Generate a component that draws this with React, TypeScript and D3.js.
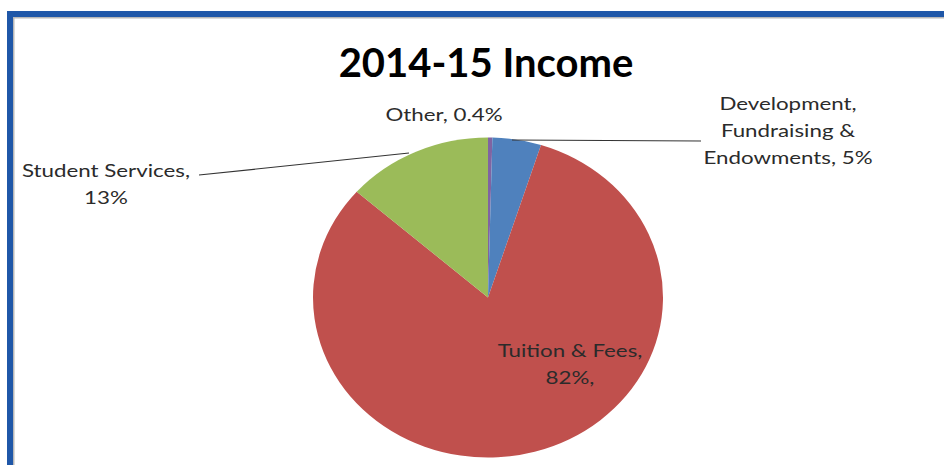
import React, { useEffect } from 'react';
import * as d3 from 'd3';

const categories = ['Other', 'Development, Fundraising & Endowments', 'Tuition & Fees', 'Student Services'];
const shares = [0.4, 4.5, 81.6, 13.5];
const colors = ['#8064A2', '#4F81BD', '#C0504D', '#9BBB59'];
const labelLines = [
  ['Other, 0.4%'],
  ['Development,', 'Fundraising &', 'Endowments, 5%'],
  ['Tuition & Fees,', '82%,'],
  ['Student Services,', '13%'],
];

const width = 944;
const height = 465;
const cx = 488;
const cy = 297.5;
const radius = 160;
const stretchX = 175 / 160;
const textStretch = 1.24;

// label anchors (centre of text block, first baseline) and leader lines
const labelPos = [
  { x: 444, y: 121, leader: null as null | number[] },
  { x: 788, y: 110, leader: [701, 141, 512, 140] },
  { x: 570, y: 357, leader: null },
  { x: 106, y: 177, leader: [199, 175, 409, 153] },
];

const App: React.FC = () => {
  useEffect(() => {
    document.body.style.margin = '0';
  }, []);

  const pie = d3.pie<number>().sort(null).value(d => d);
  const arcs = pie(shares);
  const arc = d3.arc<d3.PieArcDatum<number>>().innerRadius(0).outerRadius(radius);

  const font = 'Lato, "Open Sans", sans-serif';

  return (
    <svg width={width} height={height} style={{ display: 'block', background: '#fff' }}>
      {/* frame */}
      <rect x={7} y={11} width={width - 7} height={6} fill="#1F57A8" />
      <rect x={7} y={11} width={6} height={height - 11} fill="#1F57A8" />
      <rect x={13} y={17} width={width - 13} height={1.5} fill="#b8b8b8" />
      <rect x={13} y={17} width={1.5} height={height - 17} fill="#b8b8b8" />

      <text x={486} y={77} textAnchor="middle" fontFamily={font} fontWeight="bold" fontSize={40} fill="#000">
        2014-15 Income
      </text>

      <g transform={`translate(${cx},${cy}) scale(${stretchX},1)`}>
        {arcs.map((a, i) => (
          <path key={categories[i]} d={arc(a) || ''} fill={colors[i]} />
        ))}
      </g>

      {labelPos.map((p, i) => (
        <g key={categories[i]}>
          {p.leader && (
            <line x1={p.leader[0]} y1={p.leader[1]} x2={p.leader[2]} y2={p.leader[3]} stroke="#333" strokeWidth={1.2} />
          )}
          <g transform={`translate(${p.x},${p.y}) scale(${textStretch},1)`}>
            <text x={0} y={0} textAnchor="middle" fontFamily={font} fontSize={18} fill="#2b2b2b">
              {labelLines[i].map((line, j) => (
                <tspan key={j} x={0} dy={j === 0 ? 0 : 27}>
                  {line}
                </tspan>
              ))}
            </text>
          </g>
        </g>
      ))}
    </svg>
  );
};

export default App;
